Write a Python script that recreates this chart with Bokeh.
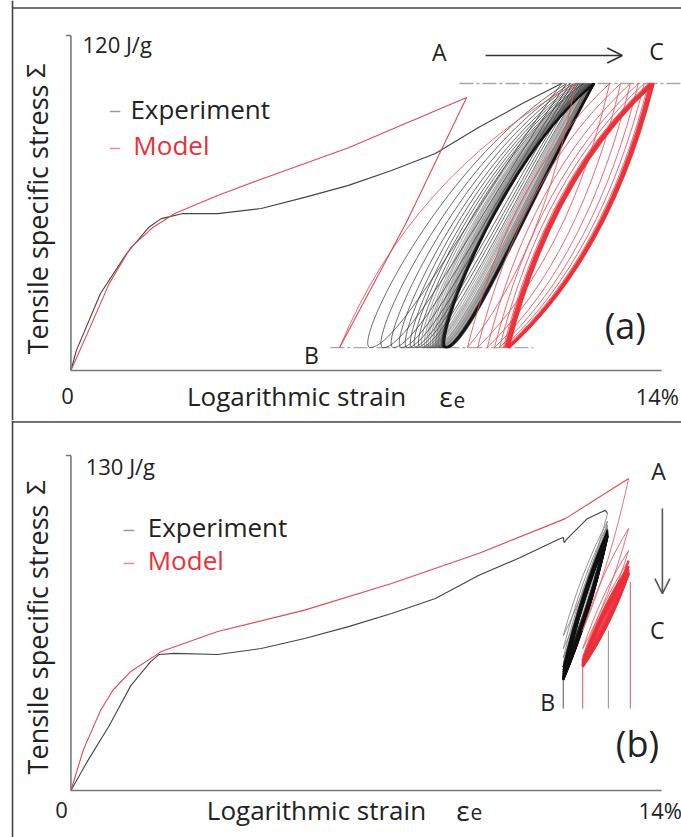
from bokeh.plotting import figure
from bokeh.layouts import column
from bokeh.models import Range1d, Arrow, OpenHead, ColumnDataSource
from bokeh.core.properties import value
from bokeh.embed import file_html
from bokeh.resources import INLINE

# ---------------- data ----------------
# strain in %, specific stress in J/g
# Panel (a): stress-controlled cycling between two stress levels
stress_limits_a = [8.2, 102.8]          # B level, A-C level
exp_a_strain = [0, 0.13, 0.70, 1.32, 1.84, 2.14, 2.66, 3.48, 4.51, 5.54, 6.58, 7.60, 8.64, 9.66, 10.70, 11.63]
exp_a_stress = [0, 7.2, 27.6, 41.9, 51.2, 54.4, 56.2, 56.2, 58.0, 62.0, 66.3, 71.6, 77.7, 87.0, 95.6, 102.8]
mod_a_strain = [0, 0.39, 0.91, 1.42, 1.94, 2.46, 3.48, 4.51, 6.58, 8.64, 9.38, 7.95, 6.37]
mod_a_stress = [0, 13.3, 31.2, 44.1, 51.2, 56.2, 62.7, 68.5, 79.8, 93.0, 97.8, 53.0, 8.2]
# strain at the upper / lower stress level for each experimental cycle
exp_a_cyc_top = [11.63, 11.75, 11.84, 11.91, 11.98, 12.03, 12.08, 12.13, 12.15, 12.17,
                 12.20, 12.22, 12.24, 12.27, 12.28, 12.29, 12.30, 12.32, 12.33, 12.34,
                 12.35, 12.36, 12.37, 12.38, 12.38, 12.39, 12.40, 12.41, 12.41, 12.42]
exp_a_cyc_bottom = [7.10, 7.41, 7.65, 7.84, 7.98, 8.10, 8.19, 8.29, 8.36, 8.43,
                    8.48, 8.52, 8.57, 8.62, 8.65, 8.69, 8.71, 8.74, 8.76, 8.78,
                    8.81, 8.83, 8.84, 8.85, 8.87, 8.88, 8.89, 8.90, 8.91, 8.93]
mod_a_cyc_bottom = [6.37, 9.40, 9.64, 9.87, 10.04, 10.16, 10.25, 10.30, 10.35, 10.37, 10.38]
mod_a_cyc_top = [11.96, 12.77, 13.03, 13.26, 13.45, 13.59, 13.69, 13.74, 13.79, 13.81]

# Panel (b): strain-controlled cycling between two strain levels
exp_b_strain = [0, 0.39, 0.91, 1.42, 1.89, 2.09, 2.45, 3.48, 4.51, 5.54, 6.58, 7.60, 8.64, 9.66,
                10.65, 11.60, 11.67, 11.69, 11.77, 12.24, 12.55, 12.67, 12.72]
exp_b_stress = [0, 11.3, 25.2, 40.7, 50.0, 52.8, 53.2, 52.8, 55.1, 59.0, 63.6, 68.7, 74.5, 83.4,
                90.4, 97.8, 98.2, 96.2, 97.8, 105.5, 107.9, 108.7, 107.5]
mod_b_strain = [0, 0.30, 0.70, 1.00, 1.42, 2.14, 3.48, 5.54, 7.60, 9.66, 11.72, 13.22]
mod_b_stress = [0, 16.0, 31.0, 39.0, 46.2, 53.9, 61.7, 70.0, 80.3, 92.0, 105.5, 121.1]
exp_b_strain_limits = [11.67, 12.72]
mod_b_strain_limits = [12.13, 13.22]
exp_b_cyc_top = [107.5, 104.5, 103.0, 102.0, 101.3, 100.8, 100.4, 100.1, 99.8, 99.6,
                 99.4, 99.2, 99.0, 98.9, 98.8, 98.7, 98.6, 98.5, 98.4, 98.3]
exp_b_cyc_bottom = [60.0, 55.0, 51.5, 49.3, 47.8, 46.7, 45.9, 45.2, 44.7, 44.3,
                    44.0, 43.8, 43.6, 43.4, 43.3, 43.2, 43.1, 43.0, 42.9, 42.8]
mod_b_cyc_top = [121.1, 101.7, 93.1, 89.2, 87.0, 85.8, 85.0, 84.5, 84.2, 84.0]
mod_b_cyc_bottom = [62.0, 55.0, 52.0, 50.5, 49.6, 49.0, 48.6, 48.3, 48.1, 48.0]
mark_b_strain = [11.67, 12.13, 12.74, 13.26]
mark_b_top = [43.5, 48.5, 62.1, 81.0]
mark_b_colors = ["#666666", "#e8606a", "#999999", "#e8606a"]

# ---------------- styling ----------------
FONT = "Open Sans"
TXT = "#222222"
RED = "#ec2f38"
AXIS = "#777777"
X_RANGE = (-1.669, 14.473)
BORDER_X = -1.384

# bezier control fractions (relative to the bottom point, top point = (1, 1))
SHAPE_EXP_A = (((-0.10, 0.0), (0.35, 0.70)), ((0.60, 0.60), (0.15, 0.0)))
SHAPE_MOD_A = (((0.20, 0.433), (0.533, 0.767)), ((0.80, 0.567), (0.467, 0.233)))
SHAPE_B = (((0.28, 0.387), (0.613, 0.72)), ((0.72, 0.613), (0.387, 0.28)))


def panel(height, y0, y1):
    p = figure(width=681, height=height, x_range=Range1d(*X_RANGE), y_range=Range1d(y0, y1),
               output_backend="svg", toolbar_location=None,
               x_axis_location=None, y_axis_location=None, min_border=0)
    p.outline_line_color = None
    p.grid.visible = False
    p.background_fill_color = "white"
    p.border_fill_color = "white"
    return p


def text(p, x, y, s, size, color=TXT, align="center", baseline="middle", angle=0.0):
    p.text(x=[x], y=[y], text=[s], text_font=value(FONT), text_font_size=value(f"{size}px"),
           text_color=color, text_align=align, text_baseline=baseline, angle=angle)


KEYS = ("x0", "y0", "x1", "y1", "cx0", "cy0", "cx1", "cy1", "color", "width", "alpha")


def new_d():
    return {k: [] for k in KEYS}


def branch(d, bottom, top, load, shape, color, width, alpha):
    (bx, by), (tx, ty) = bottom, top
    dx, dy = tx - bx, ty - by
    c1, c2 = shape[0] if load else shape[1]
    start, end = (bottom, top) if load else (top, bottom)
    vals = (start[0], start[1], end[0], end[1],
            bx + c1[0] * dx, by + c1[1] * dy, bx + c2[0] * dx, by + c2[1] * dy,
            color, width, alpha)
    for k, v in zip(KEYS, vals):
        d[k].append(v)


def draw(p, d):
    p.bezier(x0="x0", y0="y0", x1="x1", y1="y1", cx0="cx0", cy0="cy0", cx1="cx1", cy1="cy1",
             line_color="color", line_width="width", line_alpha="alpha",
             source=ColumnDataSource(d))


# ================= panel (a) =================
YA = (-17.91, 132.52)
pa = panel(420, *YA)
smin, smax = stress_limits_a
pa.line([9.21, 14.6], [smax, smax], line_color="#a8a8a8", line_width=1.3, line_dash="14 3 3 3")
pa.line([6.15, 10.96], [smin, smin], line_color="#a8a8a8", line_width=1.3, line_dash="14 3 3 3")

d = new_d()
n = len(exp_a_cyc_top)
for i in range(n):
    if i < 8:
        col, w, a = "#3a3a3a", 1.0, 0.75
    elif i < n - 7:
        col, w, a = "#444444", 1.1, 0.45
    else:
        col, w, a = "#111111", 1.2, 0.75
    branch(d, (exp_a_cyc_bottom[i], smin), (exp_a_cyc_top[i], smax), False, SHAPE_EXP_A, col, w, a)
    if i + 1 < n:
        branch(d, (exp_a_cyc_bottom[i], smin), (exp_a_cyc_top[i + 1], smax), True, SHAPE_EXP_A, col, w, a)
draw(pa, d)
pa.line(exp_a_strain, exp_a_stress, line_color="#444444", line_width=1.1)

d = new_d()
n = len(mod_a_cyc_top)
for i in range(n):
    thick = i >= n - 3
    col, w, a = (RED, 2.6, 0.95) if thick else ("#e8505a", 1.0, 0.85)
    branch(d, (mod_a_cyc_bottom[i], smin), (mod_a_cyc_top[i], smax), True, SHAPE_MOD_A, col, w, a)
    branch(d, (mod_a_cyc_bottom[i + 1], smin), (mod_a_cyc_top[i], smax), False, SHAPE_MOD_A, col, w, a)
draw(pa, d)
pa.line(mod_a_strain, mod_a_stress, line_color="#e04a52", line_width=1.1)

# axes
pa.line([0, 14], [0, 0], line_color=AXIS, line_width=1.6)
pa.line([0, 0], [0, 120], line_color=AXIS, line_width=1.6)
pa.line([-0.12, 0], [120, 120], line_color=AXIS, line_width=1.4)
# panel border (left, top)
pa.line([BORDER_X, BORDER_X], list(YA), line_color="#444444", line_width=1.6)
pa.line([BORDER_X, 14.6], [129.84, 129.84], line_color="#444444", line_width=1.6)

pa.add_layout(Arrow(end=OpenHead(size=15, line_color="#333333", line_width=1.6),
                    x_start=9.83, y_start=112.8, x_end=13.07, y_end=112.8,
                    line_color="#333333", line_width=1.6))

text(pa, 0.275, 117.1, "120 J/g", 22, align="left")
text(pa, 8.73, 113.9, "A", 23)
text(pa, 13.88, 114.6, "C", 23)
text(pa, 5.70, 5.4, "B", 23)
text(pa, 13.14, 16.1, "(a)", 36)
pa.line([0.92, 1.17], [92.8, 92.8], line_color="#9a9a9a", line_width=1.5)
pa.line([0.92, 1.17], [79.5, 79.5], line_color="#f08890", line_width=1.5)
text(pa, 1.41, 93.8, "Experiment", 26, align="left")
text(pa, 1.48, 80.6, "Model", 26, color=RED, align="left")
text(pa, -0.79, 54.1, "Tensile specific stress", 27, angle=1.5708)
text(pa, -0.84, 107.4, "\u03a3", 25, angle=1.5708)
text(pa, -0.08, -9.3, "0", 22)
text(pa, 5.35, -9.3, "Logarithmic strain", 26)
text(pa, 9.05, -9.3, "\u03b5", 28, align="right")
text(pa, 9.07, -10.4, "e", 21, align="left")
text(pa, 13.90, -9.3, "14%", 22)

# ================= panel (b) =================
YB = (-18.24, 143.58)
pb = panel(417, *YB)
for xm, yt, cm in zip(mark_b_strain, mark_b_top, mark_b_colors):
    pb.line([xm, xm], [31.8, yt], line_color=cm, line_width=1.1)

xlo, xhi = exp_b_strain_limits
d = new_d()
n = len(exp_b_cyc_top)
for i in range(n):
    light = i < 4
    col, w, a = ("#8a8a8a", 1.0, 0.9) if light else ("#111111", 1.8, 0.85)
    branch(d, (xlo, exp_b_cyc_bottom[i]), (xhi, exp_b_cyc_top[i]), False, SHAPE_B, col, w, a)
    if i + 1 < n:
        branch(d, (xlo, exp_b_cyc_bottom[i]), (xhi, exp_b_cyc_top[i + 1]), True, SHAPE_B, col, w, a)
draw(pb, d)
pb.line(exp_b_strain, exp_b_stress, line_color="#444444", line_width=1.1)

xlo, xhi = mod_b_strain_limits
d = new_d()
n = len(mod_b_cyc_top)
for i in range(n):
    light = i < 3
    col, w, a = ("#e8606a", 1.0, 0.9) if light else (RED, 2.4, 0.9)
    branch(d, (xlo, mod_b_cyc_bottom[i]), (xhi, mod_b_cyc_top[i]), False, SHAPE_B, col, w, a)
    if i + 1 < n:
        branch(d, (xlo, mod_b_cyc_bottom[i]), (xhi, mod_b_cyc_top[i + 1]), True, SHAPE_B, col, w, a)
draw(pb, d)
pb.line(mod_b_strain, mod_b_stress, line_color="#e04a52", line_width=1.1)

pb.line([0, 14], [0, 0], line_color=AXIS, line_width=1.6)
pb.line([0, 0], [0, 130], line_color=AXIS, line_width=1.6)
pb.line([-0.12, 0], [130, 130], line_color=AXIS, line_width=1.4)
pb.line([BORDER_X, BORDER_X], list(YB), line_color="#444444", line_width=1.6)
pb.line([BORDER_X, 14.6], [143.0, 143.0], line_color="#444444", line_width=1.6)

pb.add_layout(Arrow(end=OpenHead(size=15, line_color="#555555", line_width=1.6),
                    x_start=14.02, y_start=109.4, x_end=14.02, y_end=76.4,
                    line_color="#555555", line_width=1.6))

text(pb, 0.35, 126.1, "130 J/g", 22, align="left")
text(pb, 13.93, 123.8, "A", 23)
text(pb, 13.90, 62.1, "C", 23)
text(pb, 11.30, 34.5, "B", 23)
text(pb, 13.43, 18.2, "(b)", 36)
pb.line([1.25, 1.50], [100.9, 100.9], line_color="#9a9a9a", line_width=1.5)
pb.line([1.25, 1.50], [88.1, 88.1], line_color="#f08890", line_width=1.5)
text(pb, 1.82, 102.4, "Experiment", 26, align="left")
text(pb, 1.82, 89.3, "Model", 26, color=RED, align="left")
text(pb, -0.79, 58.6, "Tensile specific stress", 27, angle=1.5708)
text(pb, -0.84, 117.6, "\u03a3", 25, angle=1.5708)
text(pb, -0.22, -7.4, "0", 22)
text(pb, 5.82, -7.4, "Logarithmic strain", 26)
text(pb, 9.45, -7.4, "\u03b5", 28, align="right")
text(pb, 9.47, -8.5, "e", 21, align="left")
text(pb, 13.97, -7.4, "14%", 22)

layout = column(pa, pb)
open("out.html", "w").write(file_html(layout, INLINE))
